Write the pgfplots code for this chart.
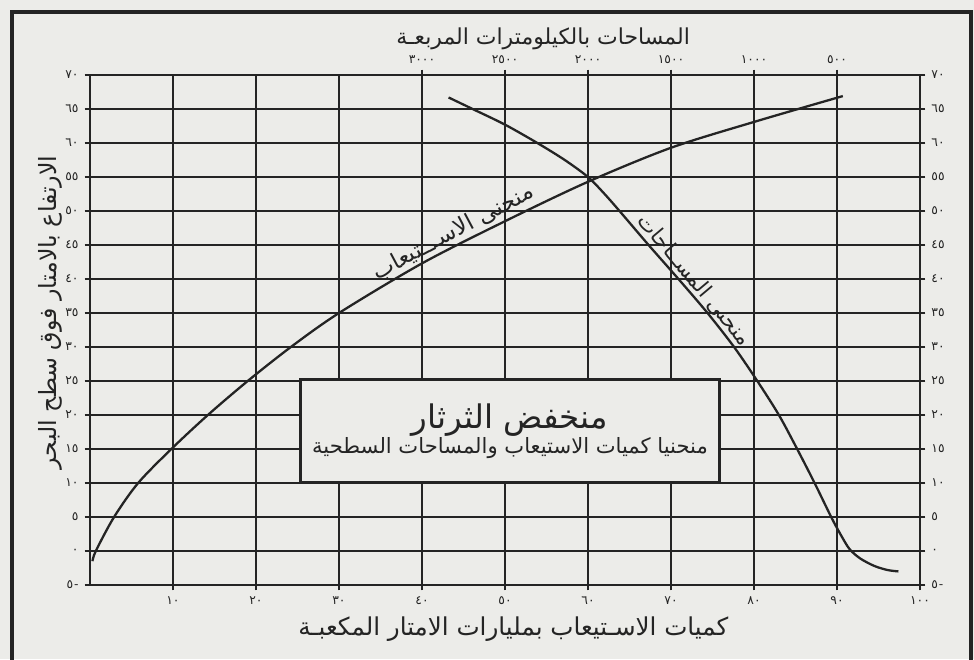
\documentclass[border=0pt]{standalone}
\usepackage{fontspec}
\usepackage{pgfplots}
\pgfplotsset{compat=1.18}
\TeXXeTstate=1
\newfontfamily\arabicfont[Script=Arabic]{DejaVu Sans}
\definecolor{paper}{RGB}{236,236,233}
\definecolor{ink}{RGB}{36,36,36}

% absorption curve (volume, 10^9 m3) and area curve
\pgfplotsset{
  basegrid/.style={
    at={(0,0)}, anchor=south west,
    scale only axis, width=16.6cm, height=10.2cm,
    xmin=0, xmax=100, ymin=-5, ymax=70,
    tick align=outside, major tick length=3pt,
    axis line style={ink, line width=1.2pt},
    tick style={ink, line width=0.6pt},
    tick label style={font=\arabicfont\fontsize{7}{8}\selectfont, text=ink},
  },
}

\begin{document}
\begin{tikzpicture}
\path[use as bounding box, fill=paper] (-1.80,-1.48) rectangle (17.68,11.70);
\draw[ink, line width=2pt] (-1.56,-1.6) -- (-1.56,11.46) -- (17.62,11.46) -- (17.62,-1.6);

% top and right scales
\begin{axis}[basegrid,
  xtick={40,50,...,90},
  xticklabels={٣٠٠٠,٢٥٠٠,٢٠٠٠,١٥٠٠,١٠٠٠,٥٠٠},
  xtick pos=upper, xticklabel pos=upper,
  ytick={-5,0,...,70},
  yticklabels={٥\kern0.5pt-,٠,٥,١٠,١٥,٢٠,٢٥,٣٠,٣٥,٤٠,٤٥,٥٠,٥٥,٦٠,٦٥,٧٠},
  ytick pos=right, yticklabel pos=right,
]
\end{axis}

\begin{axis}[basegrid,
  xtick={10,20,...,100},
  xticklabels={١٠,٢٠,٣٠,٤٠,٥٠,٦٠,٧٠,٨٠,٩٠,١٠٠},
  xtick pos=lower,
  ytick={-5,0,...,70},
  yticklabels={٥\kern0.5pt-,٠,٥,١٠,١٥,٢٠,٢٥,٣٠,٣٥,٤٠,٤٥,٥٠,٥٥,٦٠,٦٥,٧٠},
  ytick pos=left,
  grid=major, grid style={ink, line width=0.9pt},
  clip=false,
]
% منحنى الاستيعاب
\addplot[ink, line width=1.3pt, smooth, tension=0.5] coordinates {
  (0.3,-1.5) (0.7,0) (2.9,5) (5.8,10) (9.8,15) (14.2,20) (19,25) (24.2,30)
  (30,35) (40,42.3) (50,48.5) (60,54.3) (70,59.3) (80,63.1) (90.7,66.9)
};
% منحنى المساحات
\addplot[ink, line width=1.3pt, smooth, tension=0.5] coordinates {
  (43.2,66.7) (46.1,65) (50,62.7) (53.9,60) (57.2,57.5) (60,55) (62,52.5)
  (63.8,50) (67.3,45) (70.9,40) (74.4,35) (77.6,30) (80.4,25) (83.0,20)
  (85.2,15) (87.3,10) (89.3,5) (90.4,2.5) (91.5,0.3) (92.8,-1.1)
  (94.5,-2.2) (96.1,-2.8) (97.4,-3)
};

\node[font=\arabicfont\fontsize{13}{15}\selectfont, text=ink, rotate=28,
      anchor=south, inner sep=1.5pt]
  at (axis cs:44.5,45.1) {\beginR منحنى الاســـتيعاب\endR};
\node[font=\arabicfont\fontsize{12}{14}\selectfont, text=ink, rotate=-50,
      anchor=south, inner sep=2pt]
  at (axis cs:71.6,38.6) {\beginR منحنى المســاحات\endR};

\node[draw=ink, line width=1.6pt, fill=paper, text=ink,
      minimum width=8.38cm, minimum height=2.06cm, align=center]
  at (axis cs:50.6,17.6)
  {{\arabicfont\fontsize{18.5}{22}\selectfont\beginR منخفض الثرثار\endR}\\[0pt]
   {\arabicfont\fontsize{12}{14}\selectfont\beginR منحنيا كميات الاستيعاب والمساحات السطحية\endR}};

\node[font=\arabicfont\fontsize{12.5}{15}\selectfont, text=ink, yshift=0.72cm]
  at (axis cs:54.6,70) {\beginR المساحات بالكيلومترات المربعـة\endR};
\node[font=\arabicfont\fontsize{14}{16}\selectfont, text=ink, yshift=-0.88cm]
  at (axis cs:51,-5) {\beginR كميات الاسـتيعاب بمليارات الامتار المكعبـة\endR};
\node[font=\arabicfont\fontsize{13.5}{15}\selectfont, text=ink, rotate=90, yshift=0.80cm]
  at (axis cs:0,35.1) {\beginR الارتفاع بالامتار فوق سطح البحر\endR};
\end{axis}
\end{tikzpicture}
\end{document}
